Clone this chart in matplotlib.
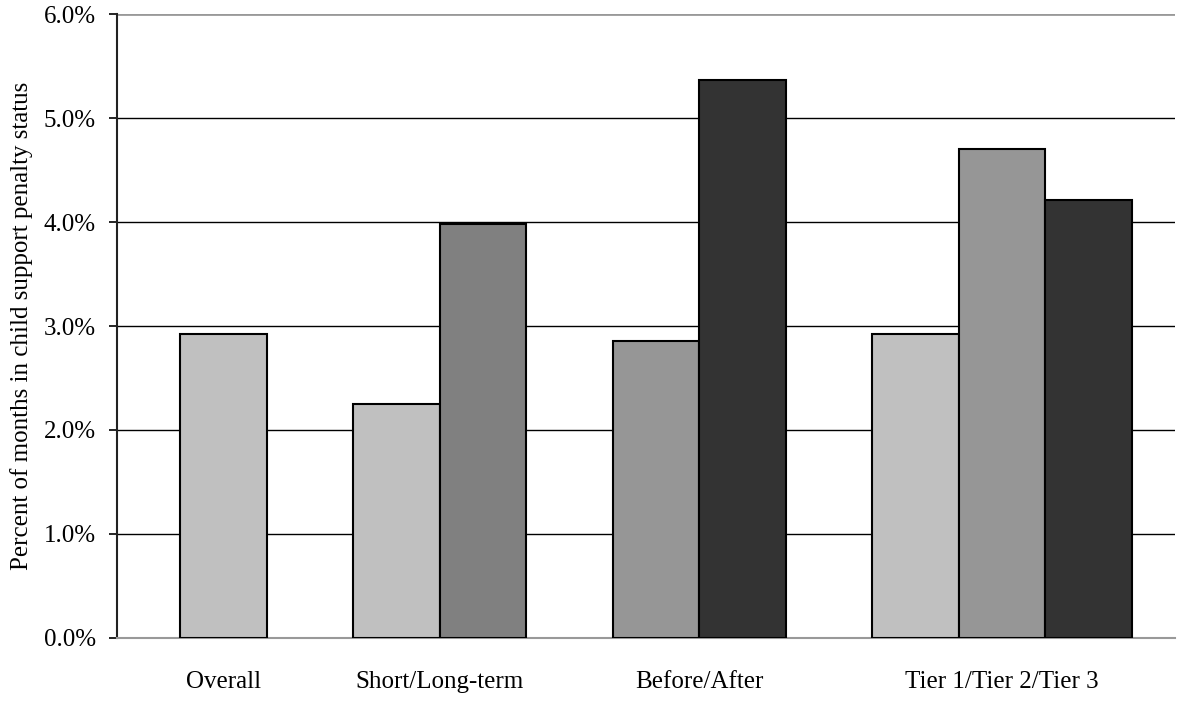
import matplotlib.pyplot as plt
from matplotlib.ticker import PercentFormatter

plt.rcParams["font.family"] = ["Liberation Serif", "DejaVu Serif"]

# data (percent of months)
groups = ["Overall", "Short/Long-term", "Before/After", "Tier 1/Tier 2/Tier 3"]
group_values = [
    [2.92],
    [2.25, 3.98],
    [2.86, 5.37],
    [2.92, 4.70, 4.21],
]
group_colors = [
    ["#c0c0c0"],
    ["#c0c0c0", "#808080"],
    ["#969696", "#333333"],
    ["#c0c0c0", "#969696", "#333333"],
]
y_ticks = [0, 1, 2, 3, 4, 5, 6]

fig = plt.figure(figsize=(11.91, 7.02), dpi=100)
ax = fig.add_axes([0.0982, 0.0912, 0.8884, 0.8888])

# layout: bars one unit wide, one unit gap between groups
start = 0.73
gap = 1.0
centers = []
for values, colors in zip(group_values, group_colors):
    lefts = [start + i for i in range(len(values))]
    ax.bar(lefts, values, width=1.0, align="edge", color=colors,
           edgecolor="black", linewidth=1.5, zorder=3)
    centers.append(start + len(values) / 2)
    start += len(values) + gap

ax.set_xlim(0, 12.23)
ax.set_ylim(0, 6)
ax.set_yticks(y_ticks)
ax.yaxis.set_major_formatter(PercentFormatter(decimals=1))
ax.set_xticks(centers)
ax.set_xticklabels(groups)

for y in y_ticks[1:-1]:
    ax.axhline(y, color="black", linewidth=1.0, zorder=1)
ax.axhline(6, color="#999999", linewidth=2.0, zorder=1)

for side in ["top", "right"]:
    ax.spines[side].set_visible(False)
ax.spines["bottom"].set_color("#999999")
ax.spines["bottom"].set_linewidth(1.5)
ax.spines["left"].set_color("#222222")
ax.spines["left"].set_linewidth(1.5)

ax.tick_params(axis="y", length=6, width=1.2, labelsize=18, pad=9)
ax.tick_params(axis="x", length=0, labelsize=18, pad=24)
ax.set_ylabel("Percent of months in child support penalty status", fontsize=18, labelpad=8)

fig.savefig("out.png", dpi=100)
